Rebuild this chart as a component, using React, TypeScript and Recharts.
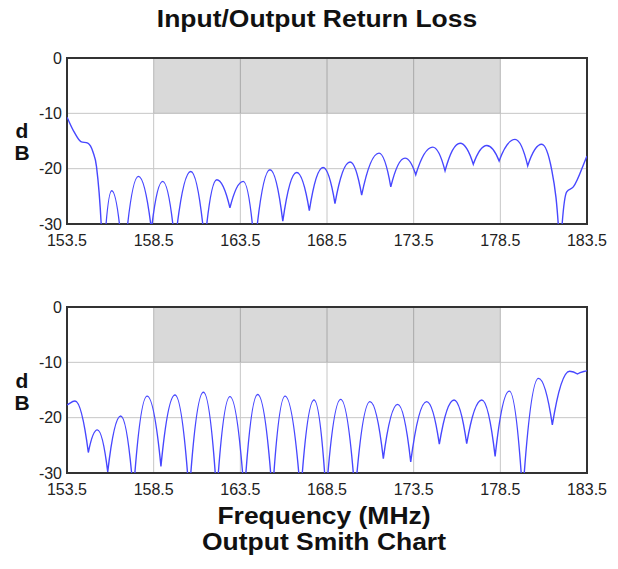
import { LineChart, Line, XAxis, YAxis, CartesianGrid, ReferenceArea } from "recharts";

const FONT = "'Liberation Sans', Arial, Helvetica, sans-serif";

const xTicks = [153.5, 158.5, 163.5, 168.5, 173.5, 178.5, 183.5];
const yTicks = [-30, -20, -10, 0];

// pass band marker (shaded)
const bandFreq = [158.5, 178.5];
const bandDb = [-10, 0];

// input return loss (top panel): peaks and nulls
const inputFreq = [
  153.5, 153.9, 154.3, 154.7, 155.0, 155.2, 155.58, 156.08, 156.76, 157.62, 158.37, 159.02, 159.73,
  160.64, 161.45, 162.14, 162.9, 163.67, 164.33, 165.21, 165.95, 166.75, 167.48, 168.27, 168.96,
  169.83, 170.5, 171.5, 172.18, 173.0, 173.62, 174.6, 175.31, 176.18, 176.94, 177.72, 178.43,
  179.35, 180.08, 180.89, 181.47, 181.95, 182.33, 182.71, 183.5,
];
const inputDb = [
  -10.7, -13.3, -15.1, -15.4, -17.0, -19.6, -38, -24.0, -38, -21.4, -31, -22.3, -33.6,
  -20.5, -33.5, -22.0, -27.1, -22.3, -34.5, -20.2, -29.5, -20.7, -27.6, -19.8, -26.3,
  -18.8, -24.8, -17.2, -23.3, -18.1, -21.1, -16.1, -20.4, -15.4, -19.2, -15.8, -18.6,
  -14.7, -19.5, -15.6, -20.3, -36, -24.2, -23.3, -17.7,
];

// output return loss (bottom panel)
const outputFreq = [
  153.5, 153.96, 154.73, 155.25, 155.85, 156.6, 157.33, 158.12, 158.92, 159.73, 160.55, 161.37,
  162.14, 162.9, 163.73, 164.5, 165.35, 166.08, 166.98, 167.75, 168.45, 169.29, 170.12, 170.98,
  171.75, 172.58, 173.33, 174.25, 174.98, 175.83, 176.56, 177.43, 178.2, 179.02, 179.79, 180.7,
  181.5, 182.5, 182.95, 183.5,
];
const outputDb = [
  -17.7, -17.0, -26.3, -22.2, -29.8, -19.7, -33.6, -16.1, -28.8, -15.9, -34, -15.4,
  -34, -16.2, -34, -15.8, -34, -16.1, -34, -16.8, -34, -16.7, -34, -17.1,
  -27.4, -17.6, -28.0, -17.1, -24.8, -16.8, -24.7, -16.8, -27.0, -15.2, -34, -12.9,
  -21.3, -11.6, -12.1, -11.5,
];

function toRows(freq: number[], db: number[]) {
  return freq.map((f, i) => ({ f, db: db[i] }));
}

// return-loss style interpolation: rounded maxima, cusped nulls
function cuspCurve(context: any) {
  let xs: number[] = [];
  let ys: number[] = [];
  return {
    areaStart() {},
    areaEnd() {},
    lineStart() {
      xs = [];
      ys = [];
    },
    point(x: number, y: number) {
      xs.push(+x);
      ys.push(+y);
    },
    lineEnd() {
      const n = xs.length;
      if (!n) return;
      context.moveTo(xs[0], ys[0]);
      if (n === 1) return;
      const sec: number[] = [];
      for (let i = 0; i < n - 1; i++) sec.push((ys[i + 1] - ys[i]) / (xs[i + 1] - xs[i]));
      const mIn = new Array(n).fill(0);
      const mOut = new Array(n).fill(0);
      for (let i = 0; i < n; i++) {
        if (i === 0) {
          mOut[i] = sec[0];
          continue;
        }
        if (i === n - 1) {
          mIn[i] = sec[n - 2];
          continue;
        }
        const s0 = sec[i - 1];
        const s1 = sec[i];
        if (s0 < 0 && s1 > 0) {
          // local max on screen (peak)
          mIn[i] = 0;
          mOut[i] = 0;
        } else if (s0 > 0 && s1 < 0) {
          // null: cusp
          mIn[i] = 2 * s0;
          mOut[i] = 2 * s1;
        } else {
          const h0 = xs[i] - xs[i - 1];
          const h1 = xs[i + 1] - xs[i];
          const p = (s0 * h1 + s1 * h0) / (h0 + h1);
          const m = (Math.sign(s0) + Math.sign(s1)) * Math.min(Math.abs(s0), Math.abs(s1), 0.5 * Math.abs(p)) || 0;
          mIn[i] = m;
          mOut[i] = m;
        }
      }
      for (let i = 0; i < n - 1; i++) {
        const h = xs[i + 1] - xs[i];
        context.bezierCurveTo(
          xs[i] + h / 3,
          ys[i] + (mOut[i] * h) / 3,
          xs[i + 1] - h / 3,
          ys[i + 1] - (mIn[i + 1] * h) / 3,
          xs[i + 1],
          ys[i + 1]
        );
      }
    },
  };
}

const tickStyle = { fontSize: 16, fill: "#222", fontFamily: FONT };

function LossPanel({ data }: { data: { f: number; db: number }[] }) {
  return (
    <LineChart width={618} height={250} data={data} margin={{ top: 58, right: 31, bottom: 0, left: 0 }}>
      <CartesianGrid stroke="#c6c6c6" strokeWidth={1} />
      <ReferenceArea
        x1={bandFreq[0]}
        x2={bandFreq[1]}
        y1={bandDb[0]}
        y2={bandDb[1]}
        fill="#000"
        fillOpacity={0.15}
        stroke="none"
      />
      <XAxis
        type="number"
        dataKey="f"
        domain={[153.5, 183.5]}
        ticks={xTicks}
        interval={0}
        tickFormatter={(v: number) => v.toFixed(1)}
        axisLine={false}
        tickLine={false}
        tickSize={6}
        tickMargin={5}
        height={26}
        tick={tickStyle}
        allowDataOverflow
      />
      <YAxis
        type="number"
        domain={[-30, 0]}
        ticks={yTicks}
        interval={0}
        axisLine={false}
        tickLine={false}
        tickSize={3}
        tickMargin={2}
        width={67}
        tick={tickStyle}
        allowDataOverflow
      />
      <Line type={cuspCurve as any} dataKey="db" stroke="#4747ff" strokeWidth={1.4} dot={false} isAnimationActive={false} />
      <ReferenceArea x1={153.5} x2={183.5} y1={-30} y2={0} fill="none" stroke="#333" strokeWidth={2} />
    </LineChart>
  );
}

const boldText = {
  position: "absolute" as const,
  fontFamily: FONT,
  fontWeight: 700,
  color: "#111",
  whiteSpace: "nowrap" as const,
};

function Stretched({ text, cx, top, size }: { text: string; cx: number; top: number; size: number }) {
  return (
    <div
      style={{
        ...boldText,
        left: cx,
        top,
        fontSize: size,
        lineHeight: `${size}px`,
        transform: "translateX(-50%) scaleX(1.15)",
      }}
    >
      {text}
    </div>
  );
}

function DbLabel({ top }: { top: number }) {
  return (
    <div style={{ ...boldText, left: 11, width: 22, top, fontSize: 21, lineHeight: "22px", textAlign: "center" }}>
      d<br />B
    </div>
  );
}

export default function App() {
  return (
    <div style={{ position: "absolute", left: 0, top: 0, width: 618, height: 569, background: "#fff" }}>
      <Stretched text="Input/Output Return Loss" cx={317} top={8} size={23} />
      <div style={{ position: "absolute", left: 0, top: 0 }}>
        <LossPanel data={toRows(inputFreq, inputDb)} />
      </div>
      <div style={{ position: "absolute", left: 0, top: 249 }}>
        <LossPanel data={toRows(outputFreq, outputDb)} />
      </div>
      <DbLabel top={120} />
      <DbLabel top={370} />
      <Stretched text="Frequency (MHz)" cx={324} top={505} size={23} />
      <Stretched text="Output Smith Chart" cx={324} top={531} size={23} />
    </div>
  );
}
